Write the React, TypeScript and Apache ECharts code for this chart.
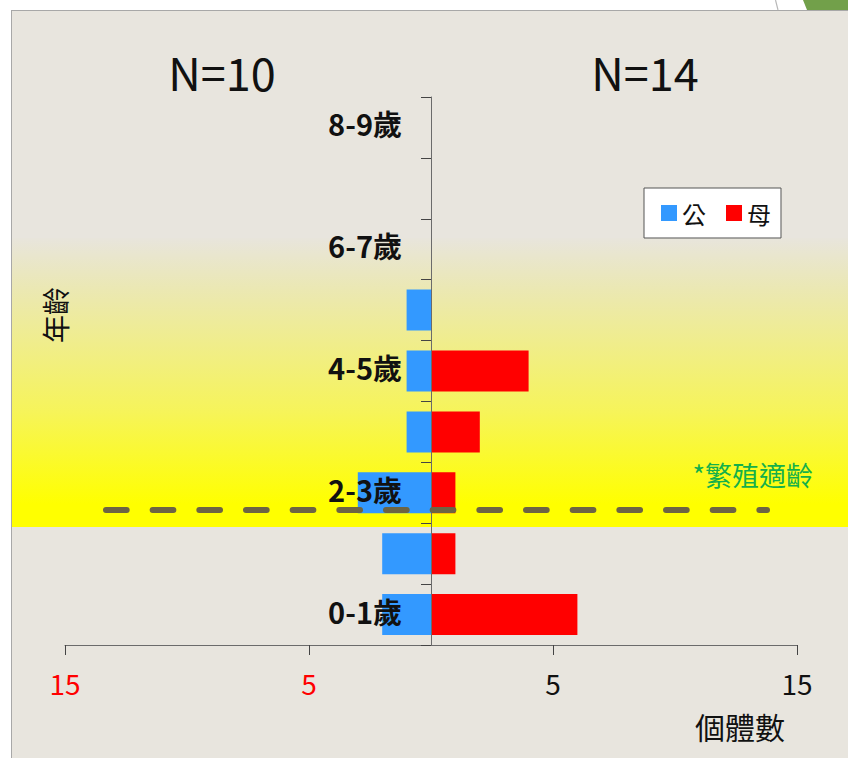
import React, { useEffect, useRef } from "react";
import * as echarts from "echarts";

// Age classes, youngest first (bottom of the pyramid)
const ageClasses = ["0-1歲", "1-2歲", "2-3歲", "3-4歲", "4-5歲", "5-6歲", "6-7歲", "7-8歲", "8-9歲"];
// Number of individuals per age class
const maleCounts = [2, 2, 3, 1, 1, 1, 0, 0, 0];
const femaleCounts = [6, 1, 1, 2, 4, 0, 0, 0, 0];
const seriesNames = ["公", "母"];

const FONT = '"Noto Sans CJK TC", "Noto Sans", sans-serif';
const sum = (a: number[]) => a.reduce((s, v) => s + v, 0);

const GRID_LEFT = 65;
const GRID_RIGHT = 51;
const PLOT_W = 848 - GRID_LEFT - GRID_RIGHT;

export default function App() {
  const ref = useRef<HTMLDivElement>(null);

  useEffect(() => {
    if (!ref.current) return;
    const chart = echarts.init(ref.current, null, { renderer: "svg" });

    const option = {
      animation: false,
      backgroundColor: "#ffffff",
      textStyle: { fontFamily: FONT },
      grid: {
        left: GRID_LEFT,
        right: GRID_RIGHT,
        top: 97,
        bottom: 113,
        containLabel: false,
        outerBoundsMode: "none",
      },
      legend: {
        left: 644,
        top: 188,
        orient: "horizontal",
        padding: [13, 10, 13, 17],
        itemGap: 20,
        itemWidth: 16,
        itemHeight: 16,
        backgroundColor: "#ffffff",
        borderColor: "#555555",
        borderWidth: 1,
        borderRadius: 0,
        textStyle: { fontSize: 24, color: "#111", fontFamily: FONT },
        data: [
          { name: seriesNames[0], icon: "rect" },
          { name: seriesNames[1], icon: "rect" },
        ],
      },
      xAxis: {
        type: "value",
        min: -15,
        max: 15,
        interval: 10,
        splitLine: { show: false },
        axisLine: { show: true, lineStyle: { color: "#6b6b6b", width: 1 } },
        axisTick: { show: true, length: 10, lineStyle: { color: "#444" } },
        axisLabel: {
          margin: 24,
          fontSize: 28,
          fontFamily: FONT,
          formatter: (v: number) => (v < 0 ? `{neg|${-v}}` : `{pos|${v}}`),
          rich: {
            neg: { color: "#ff0000", fontSize: 28, fontFamily: FONT },
            pos: { color: "#111111", fontSize: 28, fontFamily: FONT },
          },
        },
      },
      yAxis: {
        type: "category",
        data: ageClasses,
        z: 5,
        position: "left",
        // shift the category axis onto the zero line of the count axis
        offset: -PLOT_W / 2,
        axisLine: { show: true, onZero: false, lineStyle: { color: "#6b6b6b", width: 1 } },
        axisTick: { show: true, interval: 0, length: 10, lineStyle: { color: "#444" } },
        axisLabel: {
          interval: 1,
          margin: 29,
          fontSize: 29,
          fontWeight: "bold",
          color: "#111",
          fontFamily: FONT,
          formatter: (v: string) => `{t|${v}}`,
          rich: {
            t: {
              fontSize: 29,
              fontWeight: "bold",
              color: "#111",
              fontFamily: FONT,
              padding: [0, 0, 8, 0],
            },
          },
        },
      },
      series: [
        {
          name: seriesNames[0],
          type: "bar",
          stack: "pyramid",
          barWidth: 41,
          itemStyle: { color: "#3399ff" },
          data: maleCounts.map((v) => -v),
        },
        {
          name: seriesNames[1],
          type: "bar",
          stack: "pyramid",
          barWidth: 41,
          itemStyle: { color: "#ff0000" },
          data: femaleCounts,
        },
      ],
      graphic: [
        // slide frame
        {
          type: "rect",
          z: -100,
          silent: true,
          shape: { x: 11, y: 10, width: 837, height: 748 },
          style: { fill: "#e8e5de" },
        },
        {
          type: "line",
          z: -99,
          silent: true,
          shape: { x1: 11.5, y1: 10, x2: 11.5, y2: 758 },
          style: { stroke: "#a8a8a8", lineWidth: 1 },
        },
        {
          type: "line",
          z: -99,
          silent: true,
          shape: { x1: 11, y1: 10.5, x2: 848, y2: 10.5 },
          style: { stroke: "#a8a8a8", lineWidth: 1 },
        },
        {
          type: "polygon",
          z: -99,
          silent: true,
          shape: { points: [[803, 0], [848, 0], [848, 10], [807, 10]] },
          style: { fill: "#72a04a" },
        },
        {
          type: "line",
          z: -99,
          silent: true,
          shape: { x1: 775.5, y1: 0, x2: 778, y2: 10 },
          style: { stroke: "#b8b8b8", lineWidth: 1.2 },
        },
        // breeding-age band
        {
          type: "rect",
          z: -90,
          silent: true,
          shape: { x: 12, y: 238, width: 836, height: 289 },
          style: {
            fill: new echarts.graphic.LinearGradient(0, 0, 0, 1, [
              { offset: 0, color: "#e8e5dc" },
              { offset: 0.18, color: "#ebe8b2" },
              { offset: 0.6, color: "#f6f45a" },
              { offset: 0.92, color: "#ffff00" },
              { offset: 1, color: "#ffff00" },
            ]),
          },
        },
        {
          type: "line",
          z: 100,
          silent: true,
          shape: { x1: 106, y1: 510, x2: 767, y2: 510 },
          style: {
            stroke: "#6d6443",
            lineWidth: 6,
            lineCap: "round",
            lineDash: [20.67, 26],
          },
        },
        {
          type: "text",
          z: 100,
          x: 813,
          y: 474,
          style: {
            text: "*繁殖適齡",
            fill: "#14b04a",
            font: `27px ${FONT}`,
            align: "right",
            verticalAlign: "middle",
          },
        },
        // sample sizes
        {
          type: "text",
          z: 100,
          x: 222,
          y: 71,
          style: {
            text: `N=${sum(maleCounts)}`,
            fill: "#111",
            font: `45px ${FONT}`,
            align: "center",
            verticalAlign: "middle",
          },
        },
        {
          type: "text",
          z: 100,
          x: 645,
          y: 71,
          style: {
            text: `N=${sum(femaleCounts)}`,
            fill: "#111",
            font: `45px ${FONT}`,
            align: "center",
            verticalAlign: "middle",
          },
        },
        // axis titles
        {
          type: "text",
          z: 100,
          x: 55,
          y: 315,
          rotation: Math.PI / 2,
          style: {
            text: "年齡",
            fill: "#111",
            font: `28px ${FONT}`,
            align: "center",
            verticalAlign: "middle",
          },
        },
        {
          type: "text",
          z: 100,
          x: 740,
          y: 726,
          style: {
            text: "個體數",
            fill: "#111",
            font: `30px ${FONT}`,
            align: "center",
            verticalAlign: "middle",
          },
        },
      ],
    };

    chart.setOption(option as any);
    return () => chart.dispose();
  }, []);

  return (
    <div
      ref={ref}
      style={{ position: "fixed", left: 0, top: 0, width: 848, height: 758 }}
    />
  );
}
